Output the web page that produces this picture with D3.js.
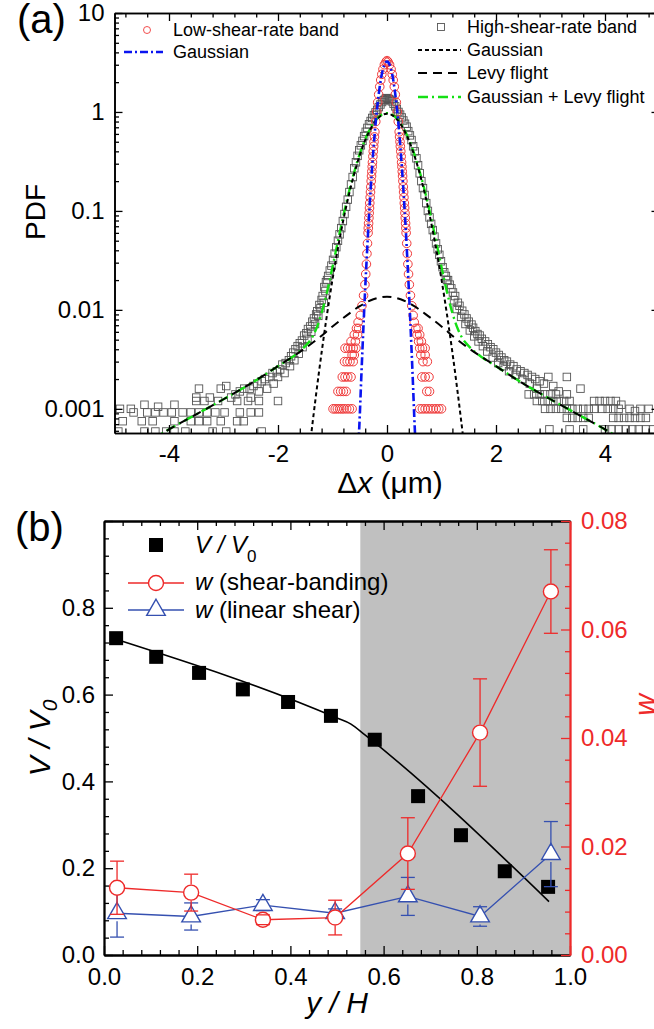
<!DOCTYPE html>
<html>
<head>
<meta charset="utf-8">
<script src="https://cdn.jsdelivr.net/npm/d3@7"></script>
<style>
  body { margin: 0; background: #fff; }
  svg { display: block; font-family: "Liberation Sans", Arial, sans-serif; }
</style>
</head>
<body>
<svg id="fig" width="654" height="1029"></svg>
<script>
// ---------------- Panel (a): displacement PDFs ----------------
// Low-shear-rate band: points along the central peak [dx, pdf]
const lowShearCore = [
  [0,3.3],[-0.019,3.2],[0.02,3.2],[-0.048,3.0],[0.047,3.0],[-0.074,2.7],[0.075,2.7],
  [-0.095,2.4],[0.096,2.4],[-0.115,2.1],[0.114,2.1],[-0.133,1.8],[0.134,1.8],
  [-0.153,1.5],[0.152,1.5],[-0.17,1.25],[0.171,1.25],[-0.189,1.0],[0.19,1.0],
  [-0.206,0.8],[0.207,0.8],[-0.223,0.63],[0.224,0.63],[-0.23,0.56],[0.231,0.56],
  [-0.238,0.5],[0.239,0.5],[-0.244,0.45],[0.245,0.45],[-0.252,0.4],[0.253,0.4],
  [-0.259,0.355],[0.26,0.355],[-0.267,0.31],[0.268,0.31],[-0.272,0.28],[0.274,0.28],
  [-0.278,0.25],[0.28,0.25],[-0.284,0.225],[0.286,0.225],[-0.29,0.2],[0.292,0.2],
  [-0.297,0.175],[0.299,0.175],[-0.303,0.155],[0.305,0.155],[-0.309,0.137],[0.311,0.137],
  [-0.316,0.12],[0.318,0.12],[-0.321,0.107],[0.324,0.107],[-0.327,0.095],[0.33,0.095],
  [-0.332,0.085],[0.335,0.085],[-0.338,0.075],[0.341,0.075],[-0.343,0.067],[0.346,0.067],
  [-0.347,0.06],[0.351,0.06],[-0.358,0.047],[0.362,0.047],[-0.368,0.037],[0.372,0.037],
  [-0.378,0.029],[0.383,0.029],[-0.39,0.023],[0.395,0.023],[-0.405,0.018],[0.41,0.018],
  [-0.43,0.014],[0.43,0.014],[-0.46,0.011],[0.455,0.011],[-0.49,0.0088],[0.48,0.0088]
];
// Low-shear-rate band: tail rows [pdf, [dx ...]]
const lowShearRows = [
  [0.0075, [-0.53, 0.5]],
  [0.0065, [-0.56, -0.52, 0.53, 0.57]],
  [0.0056, [-0.6, -0.54, 0.55, 0.6]],
  [0.0048, [-0.66, -0.58, 0.58, 0.63]],
  [0.0041, [-0.77, -0.72, -0.67, -0.62, -0.57, 0.6, 0.65, 0.7]],
  [0.0035, [-0.64, -0.6, 0.62, 0.7]],
  [0.003,  [-0.78, -0.73, -0.68, -0.62, 0.66, 0.74]],
  [0.0021, [-0.82, -0.77, -0.72, -0.66, 0.64, 0.7, 0.77]],
  [0.0015, [-0.9, -0.85, -0.8, -0.75, 0.73, 0.78]],
  [0.001,  [-0.99, -0.95, -0.91, -0.87, -0.83, -0.79, -0.74, -0.69, -0.64,
            0.6, 0.65, 0.7, 0.75, 0.8, 0.85, 0.9, 0.95, 1.0]]
];
// High-shear-rate band: central peak [dx, pdf]
const highShearCore = [
  [0,1.38],[-0.02,1.37],[0.02,1.36],[-0.04,1.33],[0.04,1.35],
  [-0.06,1.31],[0.06,1.32],
  [-0.09,1.26],[0.09,1.28],[-0.12,1.19],[0.12,1.21],[-0.15,1.12],[0.15,1.14],
  [-0.18,1.05],[0.18,1.07],[-0.21,0.99],[0.21,1.0],[-0.24,0.93],[0.24,0.94],
  [-0.27,0.87],[0.27,0.88],[-0.3,0.81],[0.3,0.82],[-0.33,0.75],[0.33,0.76],
  [-0.36,0.69],[0.36,0.71],[-0.39,0.63],[0.39,0.64],[-0.42,0.57],[0.42,0.58],
  [-0.45,0.51],[0.45,0.52],[-0.48,0.46],[0.48,0.45],[-0.51,0.41],[0.51,0.4],
  [-0.54,0.36],[0.54,0.34],[-0.57,0.31],[0.57,0.29],[-0.6,0.27],[0.6,0.24],
  [-0.63,0.22],[0.63,0.2],[-0.66,0.185],[0.66,0.17],[-0.69,0.155],[0.69,0.145],
  [-0.72,0.13],[0.72,0.12],[-0.75,0.11],[0.75,0.1],[-0.78,0.093],[0.78,0.086],
  [-0.81,0.079],[0.81,0.074],[-0.84,0.067],[0.84,0.064],[-0.87,0.058],[0.87,0.055],
  [-0.9,0.05],[0.9,0.047],[-0.93,0.043],[0.93,0.041],[-0.96,0.037],[0.96,0.036],
  [-0.99,0.032],[0.99,0.031],[-1.02,0.028],[1.02,0.027],[-1.05,0.025],[1.05,0.024],
  [-1.08,0.022],[1.08,0.022],[-1.1,0.02],[1.1,0.02]
];
// High-shear-rate band: tails [dx, pdf]
const highShearTails = [
  [-1.12,0.019],[-1.15,0.017],[-1.13,0.0155],[-1.18,0.0138],[-1.2,0.0126],[-1.16,0.0118],
  [-1.24,0.0112],[-1.22,0.0104],[-1.28,0.0097],[-1.3,0.009],[-1.26,0.0087],[-1.34,0.0082],
  [-1.37,0.0076],[-1.32,0.0072],[-1.41,0.0068],[-1.45,0.0064],[-1.39,0.006],[-1.48,0.0058],
  [-1.52,0.0055],[-1.46,0.0051],[-1.56,0.0049],[-1.6,0.0046],[-1.64,0.0043],[-1.55,0.0042],
  [-1.68,0.004],[-1.72,0.0037],[-1.62,0.0036],[-1.76,0.0034],[-1.8,0.0031],[-1.7,0.0031],
  [-1.86,0.0029],[-1.92,0.0028],[-1.78,0.0027],[-1.96,0.0025],[-2.02,0.0024],[-1.88,0.0023],
  [-2.1,0.0023],[-2.16,0.0021],[-2.0,0.0021],[-2.24,0.002],[-2.3,0.0019],[-2.08,0.0018],
  [-2.38,0.0018],[-2.45,0.0017],[-2.2,0.0016],[-2.52,0.0016],[-2.62,0.0016],[-2.35,0.0015],
  [-2.7,0.0015],[-2.78,0.0014],[-2.5,0.0013],[-2.86,0.0013],[-2.95,0.0017],[-3.05,0.0016],
  [-3.45,0.0016],[-3.5,0.0013],[-3.25,0.0013],[-3.9,0.0011],[-4.2,0.00105],[-4.45,0.0011],
  [-4.9,0.001],[-4.7,0.001],
  [1.12,0.02],[1.15,0.018],[1.18,0.0165],[1.21,0.015],[1.25,0.0138],[1.23,0.0125],
  [1.3,0.0118],[1.33,0.011],[1.28,0.0102],[1.38,0.0098],[1.42,0.009],[1.36,0.0085],
  [1.46,0.0082],[1.5,0.0076],[1.44,0.0072],[1.55,0.0071],[1.58,0.0066],[1.52,0.0062],
  [1.62,0.0061],[1.66,0.0057],[1.6,0.0054],[1.7,0.0055],[1.74,0.0051],[1.68,0.0048],
  [1.8,0.0048],[1.85,0.0045],[1.76,0.0043],[1.9,0.0042],[1.95,0.004],[1.84,0.0038],
  [2.0,0.0037],[2.05,0.0035],[1.94,0.0033],[2.1,0.0033],[2.15,0.0031],[2.04,0.0029],
  [2.2,0.003],[2.26,0.0028],[2.14,0.0027],[2.32,0.0027],[2.38,0.0025],[2.24,0.0024],
  [2.45,0.0024],[2.52,0.0023],[2.36,0.0022],[2.58,0.0022],[2.66,0.0021],[2.48,0.002],
  [2.72,0.002],[2.8,0.0019],[2.62,0.0018],[2.88,0.0018],[2.96,0.0021],[3.3,0.0021],
  [3.05,0.0017],[2.75,0.0016],[3.15,0.0015],[3.55,0.0016],[4.3,0.0011],[4.55,0.00095]
];
// High-shear-rate band: low-count rows [pdf, [dx ...]]
const highShearRows = [
  [0.0012,  [-3.5, -3.35, -3.1, -2.75, -2.55, -2.35, -2.0,
             2.75, 2.85, 2.95, 3.05, 3.15, 3.25, 3.35, 3.8, 3.9, 4.0, 4.1, 4.2]],
  [0.0014,  [2.6, 2.7, 2.8, 2.9, 3.0, 3.1, 3.3]],
  [0.001,   [2.9, 3.0, 3.1, 3.2, 3.3, 3.4, 3.5, 3.6, 3.7, 3.8, 3.95, 4.05, 4.15, 4.25, 4.45, 4.65, 4.8]],
  [0.00092, [-4.65, -4.4, -4.25, -4.1, -3.95, -3.75, -3.6, -3.45, -3.3, -3.15, -2.98, -2.7, -2.5, -2.35]],
  [0.00081, [3.3, 3.4, 3.5, 3.6, 3.7, 4.15, 4.25, 4.35, 4.45, 4.55, 4.65, 4.75]],
  [0.00075, [-4.85, -4.5, -4.3, -3.9, -3.6, -3.45, -3.3, -3.05, -2.75, -2.63]],
  [0.00062, [2.98, 3.35, 3.6, 4.0, 4.12, 4.25, 4.38, 4.5, 4.62, 4.75, 4.88]],
  [0.00059, [-4.93, -4.45, -4.25, -4.05, -3.9, -3.7, -3.2, -2.95, -2.3]]
];

// Fitted curves (dx grid and pdf values)
const lowGaussX   = [-0.55,-0.525,-0.5,-0.475,-0.45,-0.425,-0.4,-0.375,-0.35,-0.325,-0.3,-0.275,-0.25,-0.225,-0.2,-0.175,-0.15,-0.125,-0.1,-0.075,-0.05,-0.025,0,
                     0.025,0.05,0.075,0.1,0.125,0.15,0.175,0.2,0.225,0.25,0.275,0.3,0.325,0.35,0.375,0.4,0.425,0.45,0.475,0.5,0.525,0.55];
const lowGaussPdf = [0.00014,0.0004,0.00084,0.00188,0.00402,0.00829,0.0164,0.0311,0.0566,0.0988,0.166,0.266,0.411,0.608,0.864,1.178,1.54,1.933,2.33,2.69,2.98,3.17,3.24,
                     3.17,2.98,2.69,2.33,1.933,1.54,1.178,0.864,0.608,0.411,0.266,0.166,0.0988,0.0566,0.0311,0.0164,0.00829,0.00402,0.00188,0.00084,0.0004,0.00014];

const highGaussX   = [-1.5,-1.4,-1.3,-1.2,-1.1,-1.0,-0.9,-0.8,-0.7,-0.6,-0.5,-0.4,-0.3,-0.2,-0.1,0,
                      0.1,0.2,0.3,0.4,0.5,0.6,0.7,0.8,0.9,1.0,1.1,1.2,1.3,1.4,1.5];
const highGaussPdf = [0.000163,0.000499,0.001415,0.00371,0.00902,0.0203,0.0422,0.0813,0.145,0.239,0.366,0.518,0.678,0.823,0.924,0.96,
                      0.924,0.823,0.678,0.518,0.366,0.239,0.145,0.0813,0.0422,0.0203,0.00902,0.00371,0.001415,0.000499,0.000163];

const levyX   = [-5,-4.5,-4,-3.5,-3,-2.5,-2,-1.5,-1.25,-1,-0.75,-0.5,-0.25,0,
                 0.25,0.5,0.75,1,1.25,1.5,2,2.5,3,3.5,4,4.5,5];
const levyPdf = [0.0003,0.00042,0.00062,0.00088,0.00125,0.0018,0.0027,0.0041,0.0052,0.0068,0.0087,0.0109,0.0128,0.0136,
                 0.0128,0.0109,0.0087,0.0068,0.0052,0.0041,0.0027,0.0018,0.00125,0.00088,0.00062,0.00042,0.0003];

const sumX   = [-5,-4.5,-4,-3.5,-3,-2.5,-2,-1.75,-1.5,-1.4,-1.3,-1.2,-1.1,-1.0,-0.9,-0.8,-0.7,-0.6,-0.5,-0.4,-0.3,-0.2,-0.1,0,
                0.1,0.2,0.3,0.4,0.5,0.6,0.7,0.8,0.9,1.0,1.1,1.2,1.3,1.4,1.5,1.75,2,2.5,3,3.5,4,4.5,5];
const sumPdf = [0.0003,0.00042,0.00062,0.00088,0.00125,0.0018,0.0027,0.0033,0.0043,0.005,0.0064,0.0093,0.0152,0.0271,0.0497,0.09,0.1545,0.249,0.377,0.531,0.691,0.836,0.937,0.974,
                0.937,0.836,0.691,0.531,0.377,0.249,0.1545,0.09,0.0497,0.0271,0.0152,0.0093,0.0064,0.005,0.0043,0.0033,0.0027,0.0018,0.00125,0.00088,0.00062,0.00042,0.0003];

const pdfTicks = [10, 1, 0.1, 0.01, 0.001];
const dxTicks = [-4, -2, 0, 2, 4];

// ---------------- Panel (b): velocity profile and w ----------------
const yPosV   = [0.026, 0.112, 0.204, 0.298, 0.395, 0.487, 0.581, 0.674, 0.766, 0.86, 0.953];
const vRatio  = [0.73, 0.687, 0.65, 0.612, 0.583, 0.551, 0.496, 0.366, 0.276, 0.193, 0.157];
const fitPosV = [0.024, 0.50, 0.53, 0.56, 0.955];
const fitV    = [0.728, 0.546, 0.532, 0.507, 0.123];

const yPosW     = [0.028, 0.187, 0.341, 0.496, 0.652, 0.807, 0.959];
const wBanding  = [0.0124, 0.0115, 0.0065, 0.0069, 0.0187, 0.041, 0.067];
const wBandErr  = [0.0049, 0.0034, 0.0009, 0.0032, 0.0066, 0.0099, 0.0077];
const wLinear   = [0.0077, 0.0071, 0.0092, 0.0077, 0.0108, 0.0071, 0.0186];
const wLinErr   = [0.0044, 0.0025, 0.0010, 0.0008, 0.0035, 0.0018, 0.0060];
const bandStart = 0.55;

const yHTicks = [0, 0.2, 0.4, 0.6, 0.8, 1.0];
const vTicks  = [0, 0.2, 0.4, 0.6, 0.8, 1.0];
const wTicks  = [0, 0.02, 0.04, 0.06, 0.08];

// ---------------- drawing ----------------
const svg = d3.select("#fig");
const FONT = '"Liberation Sans", Arial, sans-serif';
const RED = "#ee2a2a", BLUE = "#3550b0", GREEN = "#14e014";

function styleAxis(g, color, width) {
  g.attr("font-family", FONT).attr("font-size", 24);
  g.selectAll("path.domain").attr("stroke", color).attr("stroke-width", width);
  g.selectAll(".tick line").attr("stroke", color).attr("stroke-width", 1.3);
  g.selectAll(".tick text").attr("fill", color);
}

// ===== Panel (a) =====
const xA = d3.scaleLinear().domain([-5, 5]).range([114.5, 659.5]);
const yA = d3.scaleLog().domain([0.00057, 10]).range([433, 13]);

const clipA = svg.append("clipPath").attr("id", "clipA");
clipA.append("rect").attr("x", 114.5).attr("y", 13).attr("width", 545).attr("height", 420);
const plotA = svg.append("g").attr("clip-path", "url(#clipA)");

const highPts = highShearCore.concat(highShearTails,
  highShearRows.flatMap(([p, xs]) => xs.map(x => [x, p])));
const lowPts = lowShearCore.concat(
  lowShearRows.flatMap(([p, xs]) => xs.map(x => [x, p])));

plotA.append("g").selectAll("rect").data(highPts).join("rect")
  .attr("x", d => xA(d[0]) - 3.75).attr("y", d => yA(d[1]) - 3.75)
  .attr("width", 7.5).attr("height", 7.5)
  .attr("fill", "none").attr("stroke", "#555").attr("stroke-width", 0.9);

plotA.append("g").selectAll("circle").data(lowPts).join("circle")
  .attr("cx", d => xA(d[0])).attr("cy", d => yA(d[1])).attr("r", 4.3)
  .attr("fill", "none").attr("stroke", "#f03a3a").attr("stroke-width", 1);

const lineA = d3.line().x(d => xA(d[0])).y(d => yA(d[1])).curve(d3.curveMonotoneX);
function curve(xs, ys, color, width, dash) {
  plotA.append("path").datum(d3.zip(xs, ys)).attr("d", lineA)
    .attr("fill", "none").attr("stroke", color).attr("stroke-width", width)
    .attr("stroke-dasharray", dash);
}
curve(sumX, sumPdf, GREEN, 2.4, "10,4,2,4");
curve(levyX, levyPdf, "#000", 2, "9,6");
curve(highGaussX, highGaussPdf, "#000", 2, "4,3");
curve(lowGaussX, lowGaussPdf, "#0a14f0", 2.6, "8,3,2,3");

// axes of panel (a), ticks pointing inward
const dxMinor = d3.range(-12, 13).filter(i => i % 5 !== 0).map(i => +(i * 0.4).toFixed(2));
const pdfMinor = [];
for (let k = -4; k <= 0; k++) for (let m = 2; m <= 9; m++) {
  const v = m * Math.pow(10, k);
  if (v > 0.00057 && v < 10) pdfMinor.push(v);
}
const fmtPdf = d => String(d);

const gxA = svg.append("g").attr("transform", "translate(0,433)")
  .call(d3.axisBottom(xA).tickValues(dxTicks).tickSize(-8).tickSizeOuter(0).tickPadding(12).tickFormat(d => String(d)));
styleAxis(gxA, "#000", 1.6);
const gxAm = svg.append("g").attr("transform", "translate(0,433)")
  .call(d3.axisBottom(xA).tickValues(dxMinor).tickSize(-4.5).tickSizeOuter(0).tickFormat(""));
styleAxis(gxAm, "#000", 1.6);

const gtA = svg.append("g").attr("transform", "translate(0,13)")
  .call(d3.axisTop(xA).tickValues(dxTicks).tickSize(-8).tickSizeOuter(0).tickFormat(""));
styleAxis(gtA, "#000", 1.6);
const gtAm = svg.append("g").attr("transform", "translate(0,13)")
  .call(d3.axisTop(xA).tickValues(dxMinor).tickSize(-4.5).tickSizeOuter(0).tickFormat(""));
styleAxis(gtAm, "#000", 1.6);

const gyA = svg.append("g").attr("transform", "translate(114.5,0)")
  .call(d3.axisLeft(yA).tickValues(pdfTicks).tickSize(-8).tickSizeOuter(0).tickPadding(10).tickFormat(fmtPdf));
styleAxis(gyA, "#000", 1.6);
const gyAm = svg.append("g").attr("transform", "translate(114.5,0)")
  .call(d3.axisLeft(yA).tickValues(pdfMinor).tickSize(-4.5).tickSizeOuter(0).tickFormat(""));
styleAxis(gyAm, "#000", 1.6);

const grA = svg.append("g").attr("transform", "translate(659.5,0)")
  .call(d3.axisRight(yA).tickValues(pdfTicks).tickSize(-8).tickSizeOuter(0).tickFormat(""));
styleAxis(grA, "#000", 1.6);
const grAm = svg.append("g").attr("transform", "translate(659.5,0)")
  .call(d3.axisRight(yA).tickValues(pdfMinor).tickSize(-4.5).tickSizeOuter(0).tickFormat(""));
styleAxis(grAm, "#000", 1.6);

// titles of panel (a)
svg.append("text").attr("x", 17).attr("y", 33).attr("font-size", 40).attr("font-family", FONT).text("(a)");
svg.append("text").attr("transform", "translate(45,212) rotate(-90)").attr("text-anchor", "middle")
  .attr("font-size", 28).attr("font-family", FONT).text("PDF");
const xt = svg.append("text").attr("x", 390).attr("y", 493).attr("text-anchor", "middle")
  .attr("font-size", 30).attr("font-family", FONT);
xt.append("tspan").text("\u0394");
xt.append("tspan").attr("font-style", "italic").text("x");
xt.append("tspan").text(" (\u03bcm)");

// legend of panel (a)
const legA = svg.append("g").attr("font-family", FONT).attr("font-size", 18);
legA.append("circle").attr("cx", 147).attr("cy", 30).attr("r", 3.5)
  .attr("fill", "none").attr("stroke", "#f03a3a").attr("stroke-width", 0.9);
legA.append("text").attr("x", 173).attr("y", 36).text("Low-shear-rate band");
legA.append("line").attr("x1", 124).attr("x2", 163).attr("y1", 52).attr("y2", 52)
  .attr("stroke", "#0a14f0").attr("stroke-width", 2.6).attr("stroke-dasharray", "8,3,2,3");
legA.append("text").attr("x", 173).attr("y", 58).text("Gaussian");

legA.append("rect").attr("x", 437.5).attr("y", 23.5).attr("width", 7).attr("height", 7)
  .attr("fill", "none").attr("stroke", "#555").attr("stroke-width", 0.9);
legA.append("text").attr("x", 467).attr("y", 33).text("High-shear-rate band");
const legRows = [
  [50, "#000", 2, "4,3", "Gaussian"],
  [73, "#000", 2, "9,6", "Levy flight"],
  [97, GREEN, 2.4, "10,4,2,4", "Gaussian + Levy flight"]
];
legRows.forEach(([y, c, w, dash, label]) => {
  legA.append("line").attr("x1", 418).attr("x2", 461).attr("y1", y).attr("y2", y)
    .attr("stroke", c).attr("stroke-width", w).attr("stroke-dasharray", dash);
  legA.append("text").attr("x", 467).attr("y", y + 6).text(label);
});

// ===== Panel (b) =====
const xB = d3.scaleLinear().domain([0, 1]).range([104, 570]);
const yB = d3.scaleLinear().domain([0, 1]).range([955, 521]);
const yW = d3.scaleLinear().domain([0, 0.08]).range([955, 521]);

// shear-banding region
svg.append("rect").attr("x", xB(bandStart)).attr("y", yB(1))
  .attr("width", xB(1) - xB(bandStart)).attr("height", yB(0) - yB(1)).attr("fill", "#c0c0c0");

// V/V0 fit and points
svg.append("path").datum(d3.zip(fitPosV, fitV))
  .attr("d", d3.line().x(d => xB(d[0])).y(d => yB(d[1])).curve(d3.curveMonotoneX))
  .attr("fill", "none").attr("stroke", "#000").attr("stroke-width", 1.6);
svg.append("g").selectAll("rect").data(d3.zip(yPosV, vRatio)).join("rect")
  .attr("x", d => xB(d[0]) - 7).attr("y", d => yB(d[1]) - 7)
  .attr("width", 14).attr("height", 14).attr("fill", "#000");

// w series with error bars; bars start at the marker edge, caps always drawn
function wSeries(vals, errs, color, marker) {
  const data = yPosW.map((x, i) => ({ x, v: vals[i], e: errs[i] }));
  const g = svg.append("g");
  g.append("path").datum(data)
    .attr("d", d3.line().x(d => xB(d.x)).y(d => yW(d.v)))
    .attr("fill", "none").attr("stroke", color).attr("stroke-width", 1.3);
  const r = 8;
  const nodes = g.append("g").selectAll("g").data(data).join("g")
    .attr("transform", d => `translate(${xB(d.x)},${yW(d.v)})`);
  if (marker === "circle") {
    nodes.append("circle").attr("r", 7.5).attr("fill", "#fff").attr("stroke", color).attr("stroke-width", 1.4);
  } else {
    nodes.append("path").attr("d", d3.symbol(d3.symbolTriangle, 150)())
      .attr("fill", "#fff").attr("stroke", color).attr("stroke-width", 1.4);
  }
  data.forEach(d => {
    const cx = xB(d.x), cy = yW(d.v), top = yW(d.v + d.e), bot = yW(d.v - d.e);
    if (cy - top > r) g.append("line").attr("x1", cx).attr("x2", cx).attr("y1", top).attr("y2", cy - r)
      .attr("stroke", color).attr("stroke-width", 1.3);
    if (bot - cy > r) g.append("line").attr("x1", cx).attr("x2", cx).attr("y1", cy + r).attr("y2", bot)
      .attr("stroke", color).attr("stroke-width", 1.3);
    [top, bot].forEach(yy => g.append("line").attr("x1", cx - 7).attr("x2", cx + 7)
      .attr("y1", yy).attr("y2", yy).attr("stroke", color).attr("stroke-width", 1.3));
  });
}
wSeries(wLinear, wLinErr, BLUE, "triangle");
wSeries(wBanding, wBandErr, RED, "circle");

// axes of panel (b)
const posMinor = d3.range(0, 26).filter(i => i % 5 !== 0).map(i => i * 0.04);
const wMinor = d3.range(0, 21).filter(i => i % 5 !== 0).map(i => i * 0.004);

const gxB = svg.append("g").attr("transform", "translate(0,955)")
  .call(d3.axisBottom(xB).tickValues(yHTicks).tickSize(-9).tickSizeOuter(0).tickPadding(13).tickFormat(d3.format(".1f")));
styleAxis(gxB, "#000", 1.8);
const gxBm = svg.append("g").attr("transform", "translate(0,955)")
  .call(d3.axisBottom(xB).tickValues(posMinor).tickSize(-5).tickSizeOuter(0).tickFormat(""));
styleAxis(gxBm, "#000", 1.8);
const gtB = svg.append("g").attr("transform", "translate(0,521)")
  .call(d3.axisTop(xB).tickValues(yHTicks).tickSize(-9).tickSizeOuter(0).tickFormat(""));
styleAxis(gtB, "#000", 1.8);
const gtBm = svg.append("g").attr("transform", "translate(0,521)")
  .call(d3.axisTop(xB).tickValues(posMinor).tickSize(-5).tickSizeOuter(0).tickFormat(""));
styleAxis(gtBm, "#000", 1.8);

const gyB = svg.append("g").attr("transform", "translate(104,0)")
  .call(d3.axisLeft(yB).tickValues(vTicks).tickSize(-9).tickSizeOuter(0).tickPadding(9)
    .tickFormat(d => (d < 0.99 ? d3.format(".1f")(d) : "")));
styleAxis(gyB, "#000", 1.8);
const gyBm = svg.append("g").attr("transform", "translate(104,0)")
  .call(d3.axisLeft(yB).tickValues(posMinor).tickSize(-5).tickSizeOuter(0).tickFormat(""));
styleAxis(gyBm, "#000", 1.8);

const gwB = svg.append("g").attr("transform", "translate(570,0)")
  .call(d3.axisRight(yW).tickValues(wTicks).tickSize(-9).tickSizeOuter(0).tickPadding(11).tickFormat(d3.format(".2f")));
styleAxis(gwB, RED, 1.8);
const gwBm = svg.append("g").attr("transform", "translate(570,0)")
  .call(d3.axisRight(yW).tickValues(wMinor).tickSize(-5).tickSizeOuter(0).tickFormat(""));
styleAxis(gwBm, RED, 1.8);

// titles of panel (b)
svg.append("text").attr("x", 15).attr("y", 541).attr("font-size", 40).attr("font-family", FONT).text("(b)");
const vt = svg.append("text").attr("transform", "translate(50,738) rotate(-90)").attr("text-anchor", "middle")
  .attr("font-size", 30).attr("font-family", FONT).attr("font-style", "italic");
vt.append("tspan").text("V / V");
vt.append("tspan").attr("font-size", 21).attr("dy", 7).text("0");
svg.append("text").attr("transform", "translate(655,705) rotate(-90)").attr("text-anchor", "middle")
  .attr("font-size", 30).attr("font-family", FONT).attr("font-style", "italic").attr("fill", RED).text("w");
svg.append("text").attr("x", 337).attr("y", 1013).attr("text-anchor", "middle")
  .attr("font-size", 30).attr("font-family", FONT).attr("font-style", "italic").text("y / H");

// legend of panel (b)
const legB = svg.append("g").attr("font-family", FONT).attr("font-size", 24);
legB.append("rect").attr("x", 149).attr("y", 538).attr("width", 14).attr("height", 14).attr("fill", "#000");
const l1 = legB.append("text").attr("x", 195).attr("y", 553);
l1.append("tspan").attr("font-style", "italic").text("V / V");
l1.append("tspan").attr("font-size", 17).attr("dy", 9).text("0");

legB.append("line").attr("x1", 128).attr("x2", 184).attr("y1", 583).attr("y2", 583).attr("stroke", RED).attr("stroke-width", 1.3);
legB.append("circle").attr("cx", 156).attr("cy", 583).attr("r", 7.5).attr("fill", "#fff").attr("stroke", RED).attr("stroke-width", 1.4);
const l2 = legB.append("text").attr("x", 195).attr("y", 590);
l2.append("tspan").attr("font-style", "italic").text("w");
l2.append("tspan").text(" (shear-banding)");

legB.append("line").attr("x1", 128).attr("x2", 184).attr("y1", 610).attr("y2", 610).attr("stroke", BLUE).attr("stroke-width", 1.3);
legB.append("path").attr("transform", "translate(156,610)").attr("d", d3.symbol(d3.symbolTriangle, 150)())
  .attr("fill", "#fff").attr("stroke", BLUE).attr("stroke-width", 1.4);
const l3 = legB.append("text").attr("x", 195).attr("y", 618);
l3.append("tspan").attr("font-style", "italic").text("w");
l3.append("tspan").text(" (linear shear)");
</script>
</body>
</html>
